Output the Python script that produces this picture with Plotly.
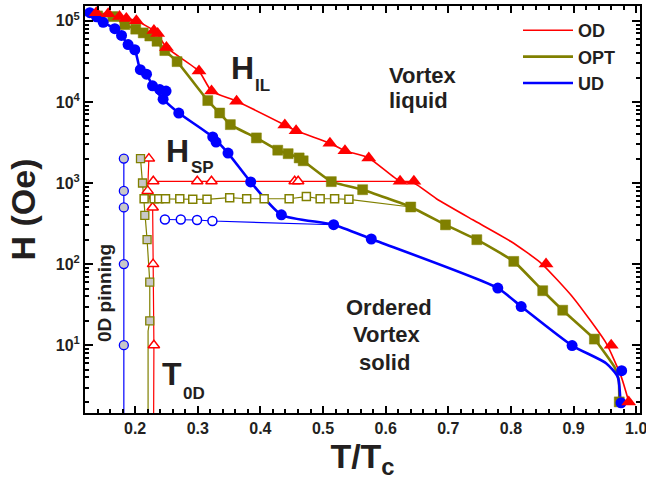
import plotly.graph_objects as go

# ---------------- data ----------------
# H_IL, OD (filled red triangles)
OD_T = [0.138, 0.157, 0.175, 0.186, 0.202, 0.230, 0.236, 0.250, 0.302, 0.322, 0.362,
        0.439, 0.457, 0.511, 0.535, 0.573, 0.623, 0.645, 0.856, 0.960, 0.988]
OD_H = [1.26e5, 1.22e5, 1.13e5, 1.07e5, 1.0e5, 7.6e4, 7.0e4, 4.7e4, 2.4e4, 1.36e4, 1.02e4,
        5.2e3, 4.4e3, 3.1e3, 2.5e3, 2.04e3, 1.05e3, 1.05e3, 100, 10, 2]
# OD guide curve
OD_curve_T = [0.138, 0.157, 0.175, 0.186, 0.202, 0.233, 0.250, 0.302, 0.322, 0.362, 0.439,
              0.457, 0.511, 0.535, 0.573, 0.623, 0.645, 0.681, 0.739, 0.800, 0.848, 0.900,
              0.952, 0.976, 0.989]
OD_curve_H = [1.26e5, 1.22e5, 1.13e5, 1.07e5, 1.0e5, 7.3e4, 4.7e4, 2.4e4, 1.36e4, 1.02e4, 5.2e3,
              4.4e3, 3.1e3, 2.5e3, 2.04e3, 1.05e3, 1.0e3, 640, 352, 190, 103, 38,
              10.6, 4.1, 1.9]

# H_IL, OPT (filled olive squares)
OPT_T = [0.140, 0.1645, 0.1836, 0.201, 0.213, 0.2235, 0.235, 0.2474, 0.267, 0.316, 0.335,
         0.352, 0.3936, 0.4277, 0.4443, 0.4619, 0.4683, 0.5132, 0.5632, 0.640, 0.6955,
         0.7455, 0.8045, 0.8507, 0.8826, 0.9332, 0.9729]
OPT_H = [1.15e5, 1.13e5, 9.0e4, 7.9e4, 7.1e4, 6.5e4, 5.6e4, 4.3e4, 3.14e4, 1.04e4, 7.3e3,
         5.25e3, 3.6e3, 2.54e3, 2.3e3, 2.04e3, 1.88e3, 1.04e3, 827, 506, 305,
         200, 108, 47, 27, 11.9, 2.0]
OPT_curve_T = [0.140, 0.1645, 0.1836, 0.201, 0.213, 0.2235, 0.235, 0.2474, 0.267, 0.316, 0.335,
               0.352, 0.3936, 0.4277, 0.4443, 0.4619, 0.4683, 0.5132, 0.5632, 0.640, 0.6955,
               0.7455, 0.8045, 0.8507, 0.8826, 0.9332, 0.9652, 0.9722, 0.9729]
OPT_curve_H = [1.15e5, 1.13e5, 9.0e4, 7.9e4, 7.1e4, 6.5e4, 5.6e4, 4.3e4, 3.14e4, 1.04e4, 7.3e3,
               5.25e3, 3.6e3, 2.54e3, 2.3e3, 2.04e3, 1.88e3, 1.04e3, 827, 506, 305,
               200, 108, 47, 27, 11.9, 5.4, 3.7, 2.0]

# H_IL, UD (filled blue circles)
UD_T = [0.1277, 0.1384, 0.149, 0.1676, 0.1783, 0.1888, 0.1995, 0.2083, 0.2182, 0.2278, 0.2394,
        0.2494, 0.2447, 0.2697, 0.3239, 0.3292, 0.3483, 0.3845, 0.4335, 0.5169, 0.577, 0.779,
        0.8163, 0.8976, 0.9767, 0.9757]
UD_H = [1.26e5, 1.12e5, 9.6e4, 8.0e4, 6.6e4, 5.1e4, 4.4e4, 2.5e4, 2.2e4, 1.58e4, 1.42e4,
        1.36e4, 1.08e4, 7.3e3, 3.7e3, 3.2e3, 2.34e3, 1.03e3, 406, 306, 204, 50.6,
        30, 9.9, 4.85, 1.95]
UD_curve_T = [0.1277, 0.1384, 0.149, 0.1676, 0.1783, 0.1888, 0.1995, 0.2083, 0.2182, 0.2278,
              0.2447, 0.2697, 0.3239, 0.3483, 0.3845, 0.4335, 0.5169, 0.577, 0.779, 0.8163,
              0.8976, 0.9518, 0.9703, 0.9746]
UD_curve_H = [1.26e5, 1.12e5, 9.6e4, 8.0e4, 6.6e4, 5.1e4, 4.4e4, 2.5e4, 2.2e4, 1.58e4,
              1.08e4, 7.3e3, 3.7e3, 2.34e3, 1.03e3, 406, 306, 204, 50.6, 30,
              9.9, 6.0, 4.1, 2.1]

# H_SP (open symbols) and 0D pinning (grey-filled symbols)
OD_SP_T = [0.229, 0.2992, 0.3219, 0.4547, 0.4603]
OD_SP_H = [1050, 1050, 1050, 1050, 1050]
OD_SP_line_T = [0.229, 0.2992, 0.3219, 0.4547, 0.4603, 0.645]
OD_SP_line_H = [1050, 1050, 1050, 1050, 1050, 1050]
OD_0D_T = [0.222, 0.220, 0.228, 0.2287, 0.230]
OD_0D_H = [2000, 800, 500, 100, 10]
OD_0D_line_T = [0.222, 0.220, 0.228, 0.2287, 0.230, 0.2295]
OD_0D_line_H = [2000, 800, 500, 100, 10, 1]

OPT_SP_T = [0.2144, 0.2303, 0.2378, 0.2485, 0.2713, 0.292, 0.3148, 0.351, 0.3781, 0.406,
            0.4459, 0.4734, 0.4954, 0.5185, 0.5413]
OPT_SP_H = [640, 640, 640, 640, 640, 630, 630, 660, 640, 640, 640, 680, 640, 640, 630]
OPT_SP_line_T = OPT_SP_T + [0.640]
OPT_SP_line_H = OPT_SP_H + [506]
OPT_0D_T = [0.2086, 0.2118, 0.2155, 0.2191, 0.2234, 0.2234]
OPT_0D_H = [2000, 1000, 400, 200, 60, 20]
OPT_0D_line_T = [0.2086, 0.2118, 0.2155, 0.2191, 0.2234, 0.2234, 0.2207, 0.2207]
OPT_0D_line_H = [2000, 1000, 400, 200, 60, 20, 15, 1]

UD_SP_T = [0.2476, 0.2729, 0.2989, 0.3234]
UD_SP_H = [355, 355, 350, 340]
UD_SP_line_T = [0.2476, 0.2729, 0.2989, 0.3234, 0.5169]
UD_SP_line_H = [355, 355, 350, 340, 306]
UD_0D_T = [0.182, 0.182, 0.182, 0.182, 0.182]
UD_0D_H = [2000, 800, 500, 100, 10]
UD_0D_line_T = [0.182, 0.182, 0.182, 0.182, 0.182, 0.182]
UD_0D_line_H = [2000, 800, 500, 100, 10, 1]

Y_TICKS = [10, 100, 1000, 10000, 100000]
Y_TICKTEXT = ["10<sup>1</sup>", "10<sup>2</sup>", "10<sup>3</sup>", "10<sup>4</sup>", "10<sup>5</sup>"]

# ---------------- styling ----------------
RED = "#FF0000"
OLIVE = "#808000"
BLUE = "#0000FF"
GREY = "#C8C8C8"
FONT = "Liberation Sans, Arial, sans-serif"
TXT = "#231F20"

fig = go.Figure()

def line(x, y, color, width, name=None, legend=False, smooth=None):
    shp = dict(shape="spline", smoothing=smooth) if smooth else dict(shape="linear")
    fig.add_trace(go.Scatter(x=x, y=y, mode="lines", name=name, showlegend=legend,
                             line=dict(color=color, width=width, **shp),
                             hoverinfo="skip"))

def marks(x, y, symbol, size, fill, edge, ew):
    fig.add_trace(go.Scatter(x=x, y=y, mode="markers", showlegend=False,
                             marker=dict(symbol=symbol, size=size, color=fill,
                                         line=dict(color=edge, width=ew))))

# H_SP / 0D lines (thin)
line(OD_SP_line_T, OD_SP_line_H, RED, 1.2)
line(OD_0D_line_T, OD_0D_line_H, RED, 1.2)
line(OPT_SP_line_T, OPT_SP_line_H, OLIVE, 1.2)
line(OPT_0D_line_T, OPT_0D_line_H, OLIVE, 1.2)
line(UD_SP_line_T, UD_SP_line_H, BLUE, 1.2)
line(UD_0D_line_T, UD_0D_line_H, BLUE, 1.2)

# H_IL curves (legend entries)
line(OD_curve_T, OD_curve_H, RED, 1.6, name="OD", legend=True, smooth=0.5)
line(OPT_curve_T, OPT_curve_H, OLIVE, 2.6, name="OPT", legend=True, smooth=0.4)
line(UD_curve_T, UD_curve_H, BLUE, 2.6, name="UD", legend=True, smooth=0.6)

# markers
marks(OD_SP_T, OD_SP_H, "triangle-up", 10, "white", RED, 1.5)
marks(OD_0D_T, OD_0D_H, "triangle-up", 10, "white", RED, 1.5)
marks(OPT_SP_T, OPT_SP_H, "square", 8, "white", OLIVE, 1.5)
marks(OPT_0D_T, OPT_0D_H, "square", 8, GREY, OLIVE, 1.3)
marks(UD_SP_T, UD_SP_H, "circle", 9, "white", BLUE, 1.5)
marks(UD_0D_T, UD_0D_H, "circle", 9, GREY, BLUE, 1.3)
marks(OPT_T, OPT_H, "square", 10, OLIVE, OLIVE, 0.5)
marks(UD_T, UD_H, "circle", 11, BLUE, BLUE, 0)
marks(OD_T, OD_H, "triangle-up", 13, RED, RED, 0)

# ---------------- text labels ----------------
L, R, T, B = 85, 640, 6, 413
def px(x):
    return (x - L) / (R - L)
def py(y):
    return (B - y) / (B - T)

def label(x, y, text, size, angle=0, xanchor="center"):
    fig.add_annotation(x=px(x), y=py(y), xref="paper", yref="paper", text=text,
                       showarrow=False, textangle=angle, xanchor=xanchor, yanchor="middle",
                       font=dict(family=FONT, size=size, color=TXT, weight="bold"))

label(242.5, 67.5, "H", 32)
label(262.5, 85.5, "IL", 17)
label(177, 150.5, "H", 32)
label(202, 167.5, "SP", 17)
label(172, 373.5, "T", 32)
label(193.5, 393, "0D", 17)
label(387, 75.4, "Vortex", 22, xanchor="left")
label(387, 100.4, "liquid", 22, xanchor="left")
label(389, 307.4, "Ordered", 22)
label(387, 334.9, "Vortex", 22)
label(384, 362.4, "solid", 22)
label(104, 293, "0D pinning", 19, angle=-90)

axis_common = dict(showline=True, linewidth=2, linecolor="black", mirror="allticks",
                   ticks="inside", tickwidth=1.5, tickcolor="black", showgrid=False,
                   zeroline=False, automargin=False)

fig.update_layout(
    width=646, height=485,
    margin=dict(l=L, r=646 - R, t=T, b=485 - B, autoexpand=False),
    paper_bgcolor="white", plot_bgcolor="white",
    font=dict(family=FONT, color=TXT),
    xaxis=dict(range=[0.12, 1.006], tickmode="linear", tick0=0, dtick=0.1, tickformat=".1f",
               ticklen=7, ticklabeloverflow="allow",
               tickfont=dict(family=FONT, size=16, weight="bold", color=TXT),
               minor=dict(dtick=0.02, tick0=0, ticks="inside", ticklen=4, tickwidth=1.5,
                          tickcolor="black"),
               title=dict(text="T/T<sub>c</sub>", standoff=2,
                          font=dict(family=FONT, size=34, weight="bold", color=TXT)),
               **axis_common),
    yaxis=dict(type="log", range=[0.164, 5.183], tickmode="array", tickvals=Y_TICKS,
               ticktext=Y_TICKTEXT, ticklen=8, ticklabeloverflow="allow",
               tickfont=dict(family=FONT, size=16, weight="bold", color=TXT),
               minor=dict(tickmode="array",
                          tickvals=[m * 10 ** e for e in range(0, 6) for m in range(2, 10)],
                          ticks="inside", ticklen=4, tickwidth=1.5, tickcolor="black"),
               title=dict(text="H (Oe)", standoff=10,
                          font=dict(family=FONT, size=34, weight="bold", color=TXT)),
               **axis_common),
    legend=dict(x=px(518), y=py(12), xanchor="left", yanchor="top", itemwidth=50,
                bgcolor="rgba(0,0,0,0)", borderwidth=0,
                font=dict(family=FONT, size=18, weight="bold", color=TXT)),
)

fig.write_html("out.html",
               config={"displayModeBar": False, "responsive": False},
               post_script="document.body.style.margin='0';document.body.style.padding='0';")
